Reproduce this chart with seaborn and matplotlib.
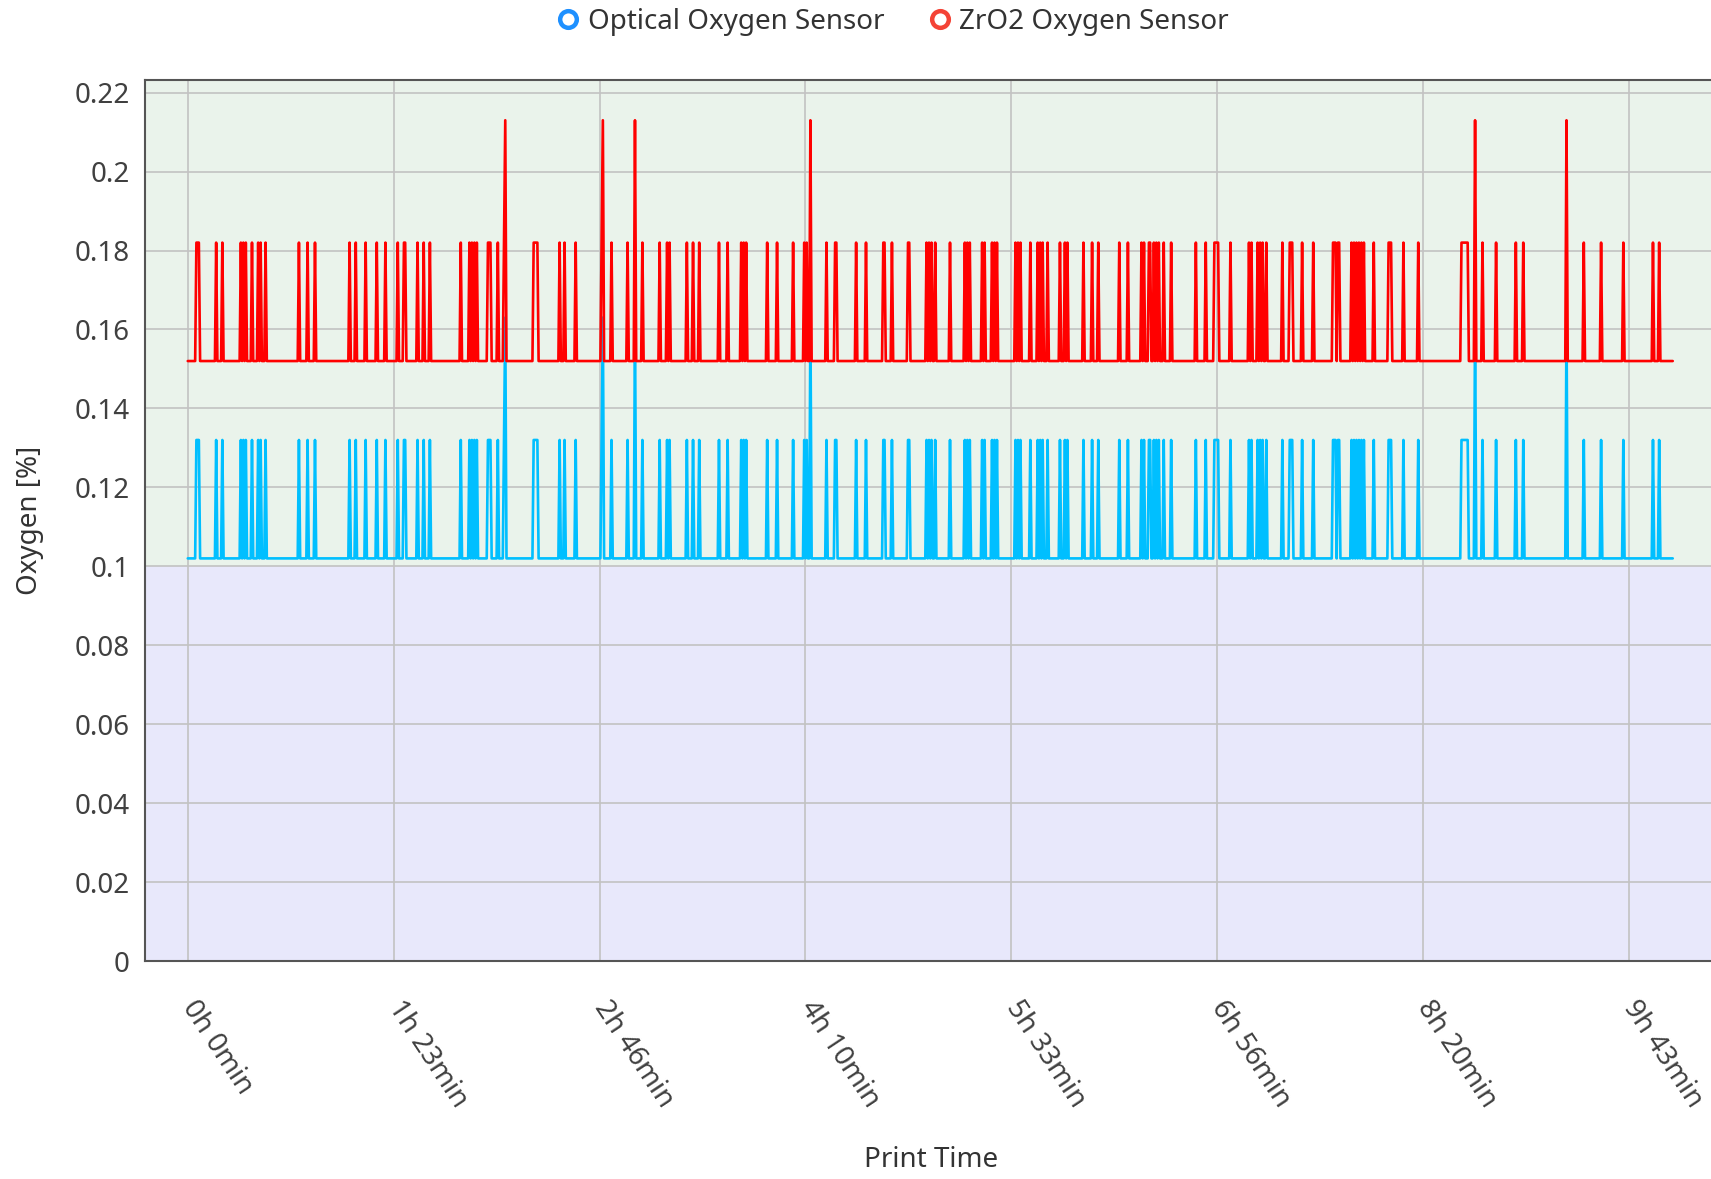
import numpy as np
import pandas as pd
import matplotlib
matplotlib.use("Agg")
import matplotlib.pyplot as plt
from matplotlib.lines import Line2D
import seaborn as sns

# ---------------- data ----------------
# times (minutes) at which both sensors step up to their "spike" level
spike_times = [3.5, 4, 4.5, 11.5, 14, 21.5, 22.5, 23.5, 26, 28.5, 29.5, 31.5, 45, 48.5, 51.5,
               65.5, 68, 72, 76.5, 80, 85, 87.5, 88, 93, 95.5, 98, 110.5, 114, 115, 116, 117,
               121.5, 122, 122.5, 125.5, 128, 140, 140.5, 141, 141.5, 150.5, 152.5, 157, 167.5,
               171.5, 178, 184, 191, 194, 195, 202, 204.5, 207, 215, 218.5, 224, 225, 226,
               234.5, 238.5, 245, 249.5, 250.5, 258.5, 262, 262.5, 270.5, 274.5, 281.5, 282,
               285, 291.5, 292, 299, 300, 301, 302.5, 308.5, 314.5, 315.5, 316.5, 321.5, 322.5,
               325.5, 326.5, 327.5, 335, 336, 337, 341, 344, 345, 346, 348, 353, 355, 356,
               362.5, 366, 368.5, 377, 380.5, 386, 387, 389, 389.5, 391, 392, 393, 395, 398,
               408, 412, 415.5, 416, 416.5, 417, 422, 429.5, 430.5, 433, 434, 435, 436.5, 443,
               446, 446.5, 447, 451, 455.5, 463.5, 464, 464.5, 465.5, 466, 471, 472, 473, 474,
               475, 476, 480, 486, 486.5, 487, 492, 498, 515.5, 516, 516.5, 517, 517.5, 518,
               524, 529.5, 537.5, 540.5, 565, 572, 581, 593, 595.5]
# times (minutes) of the tall single peaks
peak_times = [128.5, 168, 181, 252, 521, 558]

# levels: [base, spike, peak]
optical_levels = [0.102, 0.132, 0.163]
zro2_levels = [0.152, 0.182, 0.213]

end_time = 601.0
sample_step = 0.5

tick_minutes = [0, 83.33, 166.67, 250, 333.33, 416.67, 500, 583.33]
tick_labels = ["0h 0min", "1h 23min", "2h 46min", "4h 10min",
               "5h 33min", "6h 56min", "8h 20min", "9h 43min"]
y_ticks = [0, 0.02, 0.04, 0.06, 0.08, 0.1, 0.12, 0.14, 0.16, 0.18, 0.2, 0.22]
y_tick_labels = ["0", "0.02", "0.04", "0.06", "0.08", "0.1", "0.12", "0.14",
                 "0.16", "0.18", "0.2", "0.22"]

series_names = ["Optical Oxygen Sensor", "ZrO2 Oxygen Sensor"]

# ---------------- build series ----------------
t = np.arange(0, end_time + 1e-9, sample_step)
state = np.zeros(len(t), dtype=int)
for s in spike_times:
    state[np.argmin(np.abs(t - s))] = 1
for p in peak_times:
    state[np.argmin(np.abs(t - p))] = 2
optical = np.array(optical_levels)[state]
zro2 = np.array(zro2_levels)[state]

df = pd.DataFrame({
    "time": np.concatenate([t, t]),
    "oxygen": np.concatenate([optical, zro2]),
    "sensor": [series_names[0]] * len(t) + [series_names[1]] * len(t),
})

# ---------------- plot ----------------
sns.set_theme(style="white")
plt.rcParams["font.family"] = ["Noto Sans", "DejaVu Sans"]

FS = 20
W, H = 1711, 1179
fig = plt.figure(figsize=(W / 100, H / 100), dpi=100)
ax_l, ax_r, ax_t, ax_b = 145, 1715, 80, 961
ax = fig.add_axes([ax_l / W, 1 - ax_b / H, (ax_r - ax_l) / W, (ax_b - ax_t) / H])

ymax = 0.2232
ax.axhspan(0.1, ymax, color="#eaf3eb", zorder=0, lw=0)
ax.axhspan(0, 0.1, color="#e8e8fb", zorder=0, lw=0)

sns.lineplot(data=df, x="time", y="oxygen", hue="sensor", hue_order=series_names,
             palette={series_names[0]: "#00bfff", series_names[1]: "#ff0000"},
             estimator=None, sort=False, linewidth=1.9, legend=False, ax=ax, zorder=3)

ax.set_xlim(-17.3, 618.1)
ax.set_ylim(0, ymax)

ax.set_axisbelow(True)
ax.grid(True, color="#c2c2c2", linewidth=1.2)

ax.set_yticks(y_ticks, y_tick_labels)
ax.set_xticks(tick_minutes, tick_labels, rotation=-56.5, ha="left", va="center",
              rotation_mode="anchor")
ax.tick_params(axis="y", length=0, pad=11, labelsize=FS, labelcolor="#404040")
ax.tick_params(axis="x", length=0, pad=30, labelsize=FS, labelcolor="#404040")

for side in ["left", "bottom", "top"]:
    ax.spines[side].set_visible(True)
    ax.spines[side].set_color("#555555")
    ax.spines[side].set_linewidth(1.5)
ax.spines["right"].set_visible(False)

ax.set_xlabel("Print Time", fontsize=FS, color="#333333")
ax.xaxis.set_label_coords((931 - ax_l) / (ax_r - ax_l), (ax_b - 1160) / (ax_b - ax_t))
ax.xaxis.label.set_verticalalignment("center")
ax.set_ylabel("Oxygen [%]", fontsize=FS, color="#333333")
ax.yaxis.set_label_coords((30 - ax_l) / (ax_r - ax_l), (ax_b - 520) / (ax_b - ax_t))
ax.yaxis.label.set_verticalalignment("center")

handles = [
    Line2D([], [], linestyle="none", marker="o", markersize=12, markerfacecolor="white",
           markeredgecolor="#1e90ff", markeredgewidth=3.2),
    Line2D([], [], linestyle="none", marker="o", markersize=12, markerfacecolor="white",
           markeredgecolor="#f44336", markeredgewidth=3.2),
]
fig.legend(handles, series_names, loc="center", bbox_to_anchor=(893 / W, 1 - 22 / H),
           ncol=2, frameon=False, fontsize=FS, handlelength=0.8, handletextpad=0.3,
           columnspacing=1.6, labelcolor="#333333")

fig.savefig("out.png", dpi=100)
